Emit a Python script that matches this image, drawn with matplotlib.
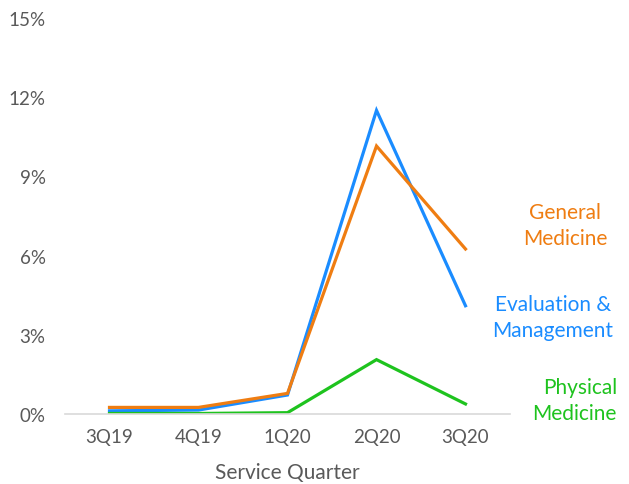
import matplotlib.pyplot as plt
from matplotlib.ticker import FuncFormatter

plt.rcParams['font.family'] = ['Lato', 'DejaVu Sans']

quarters = ['3Q19', '4Q19', '1Q20', '2Q20', '3Q20']
general_medicine = [0.25, 0.25, 0.78, 10.15, 6.25]
eval_management = [0.12, 0.15, 0.72, 11.5, 4.1]
physical_medicine = [0.02, 0.02, 0.05, 2.06, 0.38]

orange = '#EF7D12'
blue = '#1A8CFF'
green = '#1EC31E'
grey = '#595959'

fig = plt.figure(figsize=(6.29, 4.85), dpi=100)
ax = fig.add_axes([65 / 629, 1 - 415 / 485, 445 / 629, 396 / 485])

x = range(len(quarters))
ax.plot(x, eval_management, color=blue, lw=2.3, solid_joinstyle='miter')
ax.plot(x, general_medicine, color=orange, lw=2.3, solid_joinstyle='miter')
ax.plot(x, physical_medicine, color=green, lw=2.3, solid_joinstyle='miter')

ax.set_xlim(-0.5, 4.5)
ax.set_ylim(0, 15)
ax.set_yticks([0, 3, 6, 9, 12, 15])
ax.yaxis.set_major_formatter(FuncFormatter(lambda v, p: f'{v:.0f}%'))
ax.set_xticks(list(x))
ax.set_xticklabels(quarters)

for s in ['top', 'right', 'left']:
    ax.spines[s].set_visible(False)
ax.spines['bottom'].set_color('#D9D9D9')
ax.spines['bottom'].set_linewidth(1.2)
ax.tick_params(length=0, colors=grey, labelsize=13.5)
ax.tick_params(axis='y', pad=14)
ax.tick_params(axis='x', pad=10)
ax.set_xlabel('Service Quarter', color=grey, fontsize=15, labelpad=12)

fig.text(565 / 629, 1 - 226 / 485, 'General\nMedicine', color=orange, fontsize=15,
         ha='center', va='center', linespacing=1.4)
fig.text(553 / 629, 1 - 318 / 485, 'Evaluation &\nManagement', color=blue, fontsize=15,
         ha='center', va='center', linespacing=1.4)
fig.text(617 / 629, 1 - 401 / 485, 'Physical\nMedicine', color=green, fontsize=15,
         ha='right', va='center', linespacing=1.4)

fig.savefig('out.png', dpi=100)
